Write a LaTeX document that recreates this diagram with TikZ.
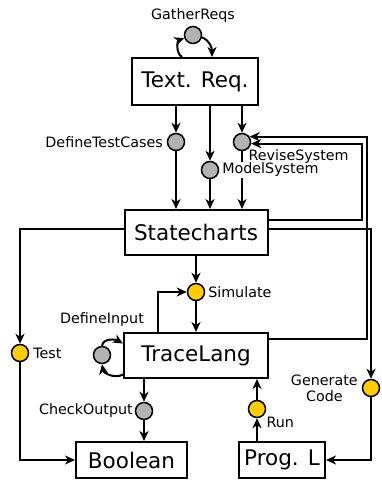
\documentclass[tikz,border=0pt]{standalone}
\usepackage{fontspec}
\setmainfont{DejaVu Sans}
\usetikzlibrary{arrows.meta, positioning, calc, backgrounds}
\definecolor{actgray}{RGB}{178,178,178}
\definecolor{simgold}{RGB}{255,204,0}

\begin{document}
\begin{tikzpicture}[x=1pt, y=-1pt, line width=2pt,
    >={Stealth[length=10pt, width=9pt, inset=3pt]},
    lang/.style={draw, fill=white, inner sep=0pt, minimum height=45pt,
      font=\fontsize{21.5}{24}\selectfont},
    act/.style={circle, draw, line width=1.5pt, fill=actgray, minimum size=17pt, inner sep=0pt},
    sim/.style={act, fill=simgold},
    flow/.style={->, line width=2pt},
    every label/.style={font=\fontsize{14.3}{16}\selectfont, inner sep=1pt}]
  \useasboundingbox (0,0) rectangle (382,481);

  % languages
  \node[lang, minimum width=126pt, minimum height=47pt] (req) at (195,81.5) {Text. Req.};
  \node[lang, minimum width=143pt] (sc) at (196,232.5) {Statecharts};
  \node[lang, minimum width=144pt] (tl) at (196,355.5) {TraceLang};
  \node[lang, minimum width=111pt, minimum height=36pt] (bool) at (131.5,460) {Boolean};
  \node[lang, minimum width=86pt, minimum height=36pt] (prog) at (282,460) {Prog. L};

  % activities
  \node[act, label={[label distance=1pt]above:GatherReqs}] (gather) at (193,35) {};
  \node[act, label={[label distance=2pt]left:DefineTestCases}] (deftc) at (176,142) {};
  \node[act, label={[fill=white, label distance=1pt]right:ModelSystem}] (model) at (210,170) {};
  \node[act, label={[anchor=north west, xshift=-2pt, yshift=1pt]south east:ReviseSystem}] (revise) at (242,142) {};
  \node[sim, label={[label distance=1pt]right:Simulate}] (simul) at (196,292) {};
  \node[act, label={[label distance=17pt]above:DefineInput}] (defin) at (102,355) {};
  \node[act, label={[label distance=0pt]left:CheckOutput}] (check) at (144,411) {};
  \node[sim, label={[label distance=2pt]right:Test}] (test) at (20,353) {};
  \node[sim, label={[anchor=north west, xshift=1pt]south east:Run}] (run) at (257,409) {};
  \node[sim, label={[align=center, label distance=2pt]left:Generate\\Code}] (gen) at (371,388) {};

  \begin{scope}[on background layer, line width=2pt]
    \draw[flow] ([xshift=-13pt]req.north) to[out=150, in=200] (gather.200);
    \draw[flow] (gather.-15) to[out=-20, in=90] ([xshift=17pt]req.north);
    \draw[flow] (req.south -| deftc) -- (deftc);
    \draw[flow] (req.south -| model) -- (model);
    \draw[flow] (req.south -| revise) -- (revise);
    \draw[flow] (deftc) -- (deftc |- sc.north);
    \draw[flow] (model) -- (model |- sc.north);
    \draw[flow] (revise) -- (revise |- sc.north);
    \draw[flow] ([yshift=12.5pt]sc.east) -- ++(93,0) |- (revise.-10);
    \draw[flow] ([yshift=16.5pt]tl.east) -- ++(98,0) |- (revise.35);
    \draw[flow] ([yshift=3.5pt]sc.east) -| (gen.north);
    \draw[flow] ([yshift=3.5pt]sc.west) -| (test.north);
    \draw[flow] (sc) -- (simul);
    \draw[flow] (simul) -- (simul |- tl.north);
    \draw[flow] ([xshift=-38pt]tl.north) |- (simul.west);
    \draw[flow] (defin.north) to[out=80, in=150] ([yshift=12pt]tl.west);
    \draw[flow] ([yshift=-19pt]tl.west) to[out=210, in=-80] (defin.south);
    \draw[flow] (tl.south -| check) -- (check);
    \draw[flow] (check) -- (check |- bool.north);
    \draw[flow] (test) |- (bool.west);
    \draw[flow] (prog.north -| run) -- (run);
    \draw[flow] (run) -- (run |- tl.south);
    \draw[flow] (gen) |- (prog.east);
  \end{scope}
\end{tikzpicture}
\end{document}
